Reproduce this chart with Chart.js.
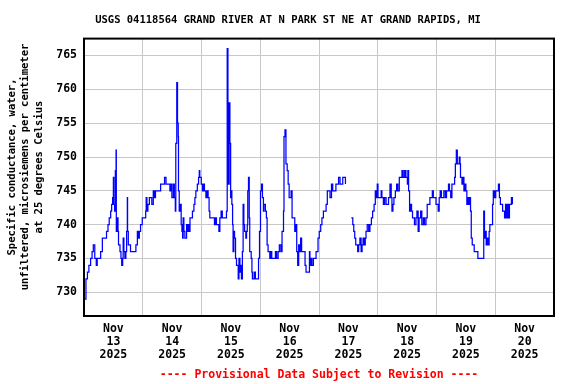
<!DOCTYPE html>
<html>
<head>
<meta charset="utf-8">
<script src="https://cdn.jsdelivr.net/npm/chart.js@4.4.1/dist/chart.umd.min.js"></script>
<style>
html, body { margin: 0; padding: 0; background: #fff; }
</style>
</head>
<body>
<canvas id="chart" width="576" height="384"></canvas>
<script>
const TITLE = "USGS 04118564 GRAND RIVER AT N PARK ST NE AT GRAND RAPIDS, MI";
const Y_LABEL = ["Specific conductance, water,", "unfiltered, microsiemens per centimeter", "at 25 degrees Celsius"];
const FOOTER = "---- Provisional Data Subject to Revision ----";
const MONTH = "Nov";
const YEAR = "2025";
const DAYS = ["13", "14", "15", "16", "17", "18", "19", "20"];
const Y_TICKS = [730, 735, 740, 745, 750, 755, 760, 765];

// hours since Nov 13 00:00 (null = gap)
const HOURS = [
  0, 0.8, 1.4, 2.0, 2.7, 3.3, 3.8, 4.4, 5.0, 5.4, 6.8, 7.5, 9.2, 9.8, 10.3, 10.9, 11.3, 11.7, 12.0, 12.2,
  12.5, 12.8, 13.1, 13.2, 13.6, 13.9, 14.1, 14.7, 15.1, 15.4, 15.8, 16.0, 16.3, 16.7, 17.1, 17.4, 17.7, 17.8, 18.1, 19.0,
  21.2, 21.8, 22.2, 22.6, 23.1, 23.8, 25.2, 25.4, 25.7, 26.1, 26.7, 27.7, 28.3, 28.8, 29.2, 31.3, 32.9, 33.5, 35.1, 35.6,
  35.9, 36.5, 36.9, 37.3, 37.5, 37.9, 38.2, 38.5, 38.6, 38.9, 39.2, 39.7, 40.0, 40.3, 40.5, 40.8, 41.2, 41.9, 42.2, 42.6,
  43.0, 43.3, 44.3, 44.9, 45.3, 45.7, 46.3, 46.8, 47.1, 47.3, 47.9, 48.4, 48.7, 49.2, 49.8, 50.3, 50.7, 51.1, 51.4, 53.3,
  53.7, 54.1, 55.1, 55.5, 56.0, 56.5, 58.2, 58.5, 58.8, 59.0, 59.3, 59.6, 59.9, 60.1, 60.4, 60.7, 60.9, 61.2, 61.5, 61.9,
  62.3, 63.0, 63.3, 63.7, 64.1, 64.3, 64.7, 65.0, 65.3, 65.6, 66.1, 66.4, 66.7, 66.9, 67.2, 67.5, 67.7, 68.3, 68.6, 68.8,
  69.5, 70.0, 71.3, 71.7, 72.1, 72.5, 72.9, 73.3, 73.5, 74.1, 74.5, 74.8, 75.2, 75.9, 76.3, 76.7, 78.2, 78.7, 79.3, 79.8,
  80.4, 80.9, 81.5, 81.7, 82.1, 82.5, 83.0, 83.4, 83.8, 84.6, 85.0, 86.1, 86.5, 86.9, 87.3, 87.7, 88.1, 88.5, 88.9, 90.3,
  90.7, 92.1, 92.3, 92.7, 93.1, 93.7, 94.8, 95.6, 96.1, 96.7, 97.2, 97.8, 98.9, 99.4, 100.5, 101.1, 101.6, 102.9, 104.0, 104.6,
  105.7, 106.8, 108.0, 109.2, 109.8, 110.2, 110.6, 111.0, 111.8, 112.2, 112.7, 113.2, 113.6, 114.0, 114.5, 114.9, 115.2, 115.7, 116.3, 116.8,
  117.4, 117.9, 118.5, 119.0, 119.5, 119.8, 120.1, 121.4, 121.7, 122.3, 122.8, 123.4, 124.4, 125.0, 125.5, 125.8, 126.2, 126.6, 127.2, 127.7,
  128.2, 128.8, 129.9, 130.4, 131.0, 131.5, 132.1, 132.3, 132.6, 133.0, 133.4, 133.8, 134.2, 135.0, 135.6, 136.0, 136.5, 136.9, 137.5, 138.0,
  138.6, 139.1, 139.7, 140.2, 140.9, 141.3, 142.3, 142.7, 143.8, 144.7, 145.1, 145.5, 146.0, 147.0, 147.6, 148.1, 148.9, 149.3, 149.8, 150.3,
  151.4, 151.7, 152.1, 152.5, 153.3, 153.6, 153.8, 154.4, 154.8, 155.2, 155.6, 156.0, 156.4, 156.8, 157.2, 157.6, 157.9, 158.2, 158.6, 159.4,
  160.9, 163.3, 163.6, 163.9, 164.3, 164.7, 165.1, 165.5, 165.8, 166.9, 167.2, 167.7, 168.2, 169.3, 169.7, 170.1, 171.0, 171.8, 172.2, 172.6,
  173.0, 173.4, 173.8, 174.6, 175.0
];
const CONDUCTANCE = [
  729, 732, 733, 734, 735, 736, 737, 735, 734, 735, 736, 738, 739, 740, 741, 742, 743, 744, 747, 743,
  742, 748, 751, 739, 741, 739, 737, 736, 735, 734, 735, 738, 736, 735, 736, 739, 744, 739, 737, 736,
  737, 739, 738, 739, 740, 741, 742, 744, 742, 743, 744, 743, 745, 744, 745, 746, 747, 746, 745, 746,
  744, 746, 744, 742, 752, 761, 755, 753, 745, 742, 743, 740, 739, 738, 741, 739, 738, 740, 739, 740,
  739, 741, 742, 743, 744, 745, 746, 747, 748, 747, 746, 745, 746, 745, 744, 745, 744, 742, 741, 740,
  741, 740, 739, 741, 742, 741, 742, 766, 755, 746, 758, 752, 744, 745, 743, 740, 736, 739, 738, 735,
  734, 732, 735, 733, 734, 732, 736, 743, 740, 739, 738, 739, 740, 745, 747, 741, 736, 735, 733, 732,
  733, 732, 735, 739, 745, 746, 744, 742, 743, 742, 741, 737, 736, 735, 736, 735, 736, 735, 736, 737,
  736, 739, 742, 753, 754, 749, 748, 746, 744, 745, 741, 739, 740, 736, 734, 737, 736, 738, 736, 734,
  733, 736, 734, 735, 734, 735, 736, 738, 739, 740, 741, 742, 743, 745, 744, 746, 745, 746, 747, 746,
  747, 746, null, 741, 740, 739, 738, 737, 736, 737, 738, 736, 737, 738, 737, 738, 739, 740, 739, 740,
  741, 742, 743, 745, 744, 746, 744, 745, 744, 743, 744, 743, 744, 746, 744, 742, 743, 744, 745, 746,
  745, 747, 748, 747, 748, 747, 746, 748, 745, 742, 743, 742, 741, 740, 741, 742, 739, 741, 742, 740,
  741, 740, 741, 743, 743, 744, 745, 744, 743, 742, 744, 745, 744, 745, 744, 745, 746, 745, 744, 746,
  747, 749, 751, 749, 750, 749, 747, 746, 747, 745, 746, 745, 743, 744, 743, 744, 742, 738, 737, 736,
  735, 742, 738, 739, 737, 738, 737, 739, 740, 743, 745, 744, 745, 746, 744, 743, 742, 741, 743, 741,
  743, 741, 743, 744, 743
];

const FONT = '"DejaVu Sans Mono", monospace';

const points = HOURS.map((h, i) => ({ x: h, y: CONDUCTANCE[i] }));

// black frame round the plot
const frame = {
  id: "frame",
  afterDraw(chart) {
    const a = chart.chartArea;
    const ctx = chart.ctx;
    ctx.save();
    ctx.strokeStyle = "#000";
    ctx.lineWidth = 2;
    ctx.strokeRect(a.left, a.top, a.right - a.left, a.bottom - a.top);
    ctx.restore();
  }
};

// rotated y label, three lines
const yLabel = {
  id: "yLabel",
  afterDraw(chart) {
    const ctx = chart.ctx;
    ctx.save();
    ctx.font = "bold 10.5px " + FONT;
    ctx.fillStyle = "#000";
    ctx.textAlign = "center";
    ctx.textBaseline = "middle";
    ctx.translate(0, 167);
    ctx.rotate(-Math.PI / 2);
    Y_LABEL.forEach((line, i) => ctx.fillText(line, 0, 12 + i * 13.5));
    ctx.restore();
  }
};

new Chart(document.getElementById("chart"), {
  type: "line",
  data: {
    datasets: [{
      data: points,
      borderColor: "#0000ff",
      borderWidth: 1.25,
      pointRadius: 0,
      stepped: true,
      spanGaps: false,
      fill: false
    }]
  },
  options: {
    responsive: false,
    animation: false,
    layout: { padding: 0 },
    plugins: {
      legend: { display: false },
      tooltip: { enabled: false },
      title: {
        display: true,
        text: TITLE,
        color: "#000",
        font: { family: FONT, size: 10.5, weight: "bold" },
        padding: { top: 14, bottom: 12 }
      }
    },
    scales: {
      x: {
        type: "linear",
        min: 0,
        max: DAYS.length * 24,
        border: { display: false },
        afterBuildTicks(scale) {
          const t = [];
          DAYS.forEach((d, i) => { t.push({ value: i * 24 }); t.push({ value: i * 24 + 12 }); });
          t.push({ value: DAYS.length * 24 });
          scale.ticks = t;
        },
        afterFit(scale) { scale.height = 68; },
        grid: {
          drawTicks: false,
          color: ctx => (ctx.tick && ctx.tick.value % 24 === 0) ? "#c8c8c8" : "rgba(0,0,0,0)",
          lineWidth: 1
        },
        ticks: {
          autoSkip: false,
          maxRotation: 0,
          padding: 7,
          color: "#000",
          font: { family: FONT, size: 11.5, weight: "bold", lineHeight: 1.13 },
          callback: v => (v % 24 === 12) ? [MONTH, DAYS[(v - 12) / 24], YEAR] : ""
        },
        title: {
          display: true,
          text: FOOTER,
          color: "#ff0000",
          font: { family: FONT, size: 11.5, weight: "bold", lineHeight: 1.13 },
          padding: { top: 6.5, bottom: 2.5 }
        }
      },
      y: {
        min: 726.5,
        max: 767.5,
        border: { display: false },
        afterBuildTicks(scale) { scale.ticks = Y_TICKS.map(v => ({ value: v })); },
        afterFit(scale) { scale.width = 84; },
        grid: { drawTicks: false, color: "#c8c8c8", lineWidth: 1 },
        ticks: {
          padding: 7,
          color: "#000",
          font: { family: FONT, size: 11.5, weight: "bold" }
        }
      },
      // empty right-hand margin so the title centres on the whole page
      margin: {
        position: "right",
        display: true,
        border: { display: false },
        grid: { display: false },
        ticks: { display: false },
        afterFit(scale) { scale.width = 22; }
      }
    }
  },
  plugins: [frame, yLabel]
});
</script>
</body>
</html>
